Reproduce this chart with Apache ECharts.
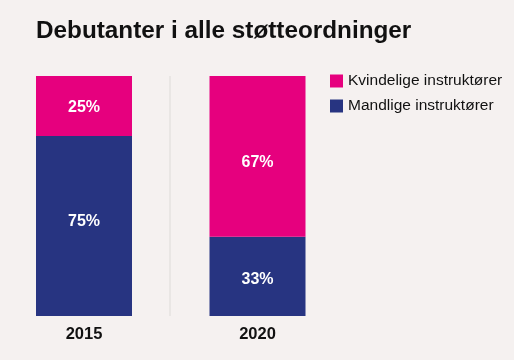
<!DOCTYPE html>
<html><head><meta charset="utf-8">
<script src="https://cdn.jsdelivr.net/npm/echarts@6/dist/echarts.min.js"></script>
<style>html,body{margin:0;padding:0;background:#f5f1f0}#c{width:514px;height:360px}</style>
</head><body><div id="c"></div>
<script>
const years = ['2015', '2020'];
const female = [25, 67];
const male = [75, 33];
const seriesNames = ['Kvindelige instruktører', 'Mandlige instruktører'];
const title = 'Debutanter i alle støtteordninger';

const chart = echarts.init(document.getElementById('c'), null, {renderer: 'canvas'});
const lbl = {show: true, color: '#ffffff', fontSize: 16, fontWeight: 'bold', fontFamily: 'Liberation Sans', formatter: p => p.value + '%'};
const femaleOffsets = [[0, 1.5], [0, 6.5]];
const maleOffsets = [[0, -4], [0, 3.5]];
const withOffsets = (vals, offs) => vals.map((v, i) => ({value: v, label: {offset: offs[i]}}));
chart.setOption({
  backgroundColor: '#f5f1f0',
  animation: false,
  title: {text: title, left: 31, top: 14, textStyle: {fontFamily: 'Liberation Sans', fontWeight: 'bold', fontSize: 24.3, color: '#111111'}},
  legend: {
    orient: 'vertical', left: 325, top: 68, itemWidth: 13, itemHeight: 13, itemGap: 9, icon: 'rect',
    textStyle: {fontFamily: 'Liberation Sans', fontSize: 15.5, color: '#111111'},
    data: seriesNames
  },
  grid: {left: -2.75, width: 347, top: 76, bottom: 44, outerBoundsMode: 'none', containLabel: false},
  xAxis: {type: 'category', data: years, axisLine: {show: false}, axisTick: {show: false},
    axisLabel: {margin: 10, fontFamily: 'Liberation Sans', fontWeight: 'bold', fontSize: 16.5, color: '#111111'}},
  yAxis: {type: 'value', min: 0, max: 100, show: false},
  graphic: [{type: 'rect', shape: {x: 169, y: 76, width: 2, height: 240}, style: {fill: '#e9e6e4'}, z: 0}],
  series: [
    {name: seriesNames[1], type: 'bar', stack: 's', data: withOffsets(male, maleOffsets), barWidth: 96, itemStyle: {color: '#273481'}, label: lbl},
    {name: seriesNames[0], type: 'bar', stack: 's', data: withOffsets(female, femaleOffsets), barWidth: 96, itemStyle: {color: '#e6007e'}, label: lbl}
  ]
});
</script></body></html>
